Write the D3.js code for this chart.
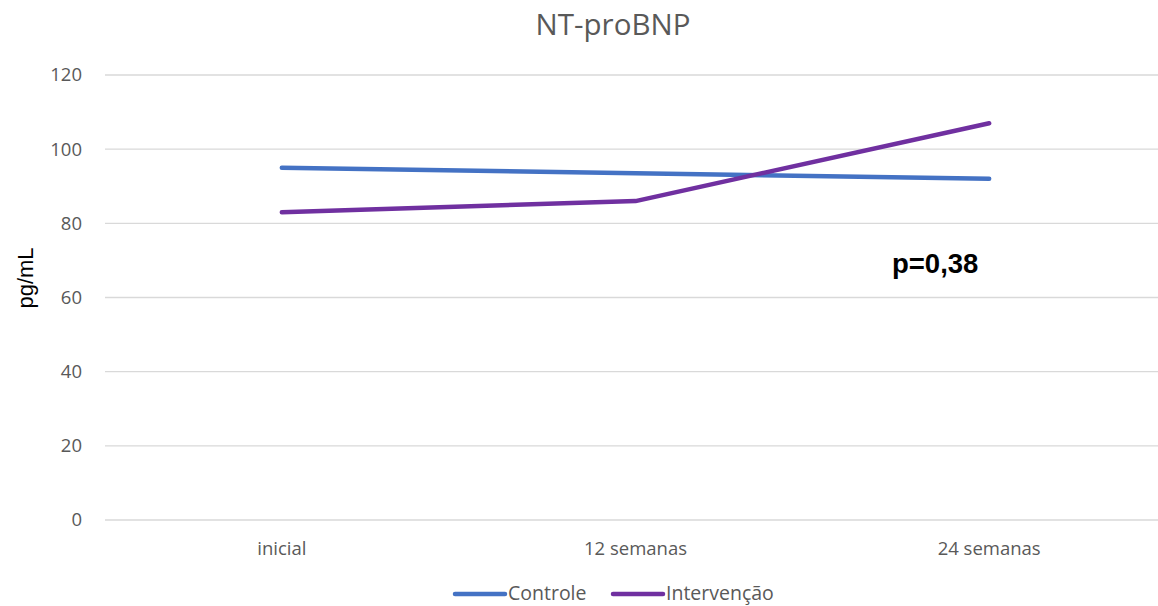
<!DOCTYPE html>
<html>
<head>
<meta charset="utf-8">
<script src="https://cdn.jsdelivr.net/npm/d3@7"></script>
<style>
  body { margin: 0; background: #fff; }
  svg { display: block; }
</style>
</head>
<body>
<div id="chart"></div>
<script>
// NT-proBNP by group over time
const categories = ["inicial", "12 semanas", "24 semanas"];
const controle = [95, 93.5, 92];
const intervencao = [83, 86, 107];
const yTicks = [0, 20, 40, 60, 80, 100, 120];
const seriesNames = ["Controle", "Intervenção"];

const width = 1158;
const height = 606;
const margin = { top: 75, right: -8, bottom: 86, left: 105 };

const svg = d3.select("#chart").append("svg")
    .attr("width", width)
    .attr("height", height);

const x = d3.scaleBand()
    .domain(categories)
    .range([margin.left, width - margin.right]);

const y = d3.scaleLinear()
    .domain([0, 120])
    .range([height - margin.bottom, margin.top]);

const color = d3.scaleOrdinal()
    .domain(seriesNames)
    .range(["#4472C4", "#7030A0"]);

const font = "'Open Sans', sans-serif";

// gridlines
svg.append("g")
    .selectAll("line")
    .data(yTicks)
    .join("line")
    .attr("x1", margin.left)
    .attr("x2", width)
    .attr("y1", d => y(d))
    .attr("y2", d => y(d))
    .attr("stroke", "#d9d9d9")
    .attr("stroke-width", 1.3);

// y tick labels
svg.append("g")
    .selectAll("text")
    .data(yTicks)
    .join("text")
    .attr("x", 82)
    .attr("y", d => y(d))
    .attr("dy", "0.35em")
    .attr("text-anchor", "end")
    .style("font-family", font)
    .style("font-size", "18.5px")
    .style("fill", "#595959")
    .text(d => d);

// x labels
svg.append("g")
    .selectAll("text")
    .data(categories)
    .join("text")
    .attr("x", d => x(d) + x.bandwidth() / 2)
    .attr("y", 555)
    .attr("text-anchor", "middle")
    .style("font-family", font)
    .style("font-size", "18.5px")
    .style("fill", "#595959")
    .text(d => d);

// title
svg.append("text")
    .attr("x", 613)
    .attr("y", 35)
    .attr("text-anchor", "middle")
    .style("font-family", font)
    .style("font-size", "29.5px")
    .style("fill", "#595959")
    .text("NT-proBNP");

// y axis title
svg.append("text")
    .attr("transform", "translate(33,278) rotate(-90)")
    .attr("text-anchor", "middle")
    .style("font-family", "'Liberation Sans', Arial, sans-serif")
    .style("font-size", "22px")
    .style("fill", "#000")
    .text("pg/mL");

// lines
const line = d3.line()
    .x((d, i) => x(categories[i]) + x.bandwidth() / 2)
    .y(d => y(d));

const series = [
    { name: "Controle", values: controle },
    { name: "Intervenção", values: intervencao }
];

svg.append("g")
    .selectAll("path")
    .data(series)
    .join("path")
    .attr("d", d => line(d.values))
    .attr("fill", "none")
    .attr("stroke", d => color(d.name))
    .attr("stroke-width", 4.5)
    .attr("stroke-linecap", "round")
    .attr("stroke-linejoin", "round");

// p-value annotation
svg.append("text")
    .attr("x", 892)
    .attr("y", 273)
    .style("font-family", "'Liberation Sans', Arial, sans-serif")
    .style("font-size", "27.5px")
    .style("font-weight", "bold")
    .style("fill", "#000")
    .text("p=0,38");

// legend
const legendPos = [455, 613];
const legend = svg.append("g")
    .selectAll("g")
    .data(seriesNames)
    .join("g")
    .attr("transform", (d, i) => `translate(${legendPos[i]},594)`);

legend.append("line")
    .attr("x1", 0)
    .attr("x2", 50)
    .attr("stroke", d => color(d))
    .attr("stroke-width", 4.5)
    .attr("stroke-linecap", "round");

legend.append("text")
    .attr("x", 53)
    .attr("y", 6)
    .style("font-family", font)
    .style("font-size", "19.5px")
    .style("fill", "#595959")
    .text(d => d);
</script>
</body>
</html>
